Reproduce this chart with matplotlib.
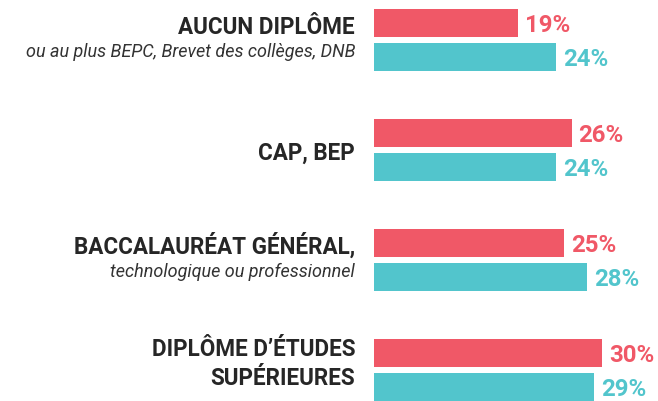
import matplotlib.pyplot as plt
from matplotlib.transforms import blended_transform_factory

# data
groups = ["AUCUN DIPLÔME", "CAP, BEP", "BACCALAURÉAT GÉNÉRAL,", "DIPLÔME D’ÉTUDES"]
subtitles = ["ou au plus BEPC, Brevet des collèges, DNB", "",
             "technologique ou professionnel", ""]
second_bold = ["", "", "", "SUPÉRIEURES"]
red_vals = [19, 26, 25, 30]
teal_vals = [24, 24, 28, 29]

RED = "#F05867"
TEAL = "#52C5CC"
DARK = "#262626"
FONT = ["Roboto", "DejaVu Sans"]

DPI = 72  # 1 pt == 1 px
W, H = 658, 401
fig = plt.figure(figsize=(W / DPI, H / DPI), dpi=DPI)

# axes holding the bars: starts at x=374px, full height
x0 = 374
ax = fig.add_axes([x0 / W, 0, (W - x0) / W, 1])
px_per_pct = 7.6
ax.set_xlim(0, (W - x0) / px_per_pct)
# one group = 110 px, first group centred at 40 px from top
ax.set_ylim(-0.364 + H / 110, -0.364)
ax.axis("off")

bar_h = 28 / 110
off = 17 / 110
idx = list(range(len(groups)))
ax.barh([i - off for i in idx], red_vals, height=bar_h, color=RED)
ax.barh([i + off for i in idx], teal_vals, height=bar_h, color=TEAL)

for i in idx:
    for v, dy, c in ((red_vals[i], -off, RED), (teal_vals[i], off, TEAL)):
        ax.annotate(f"{v}%", (v, i + dy), xytext=(7, -9), textcoords="offset points",
                    ha="left", va="baseline", fontsize=24, fontweight="bold",
                    color=c, family=FONT)

# left labels, right aligned at x=355px (offsets are baselines in px below group centre)
tr = blended_transform_factory(fig.transFigure, ax.transData)
for i in idx:
    if subtitles[i]:
        lines = [(groups[i], "bold", -6), (subtitles[i], "italic", 17)]
    elif second_bold[i]:
        lines = [(groups[i], "bold", -14), (second_bold[i], "bold", 15)]
    else:
        lines = [(groups[i], "bold", 10)]
    for txt, kind, dy in lines:
        if kind == "bold":
            kw = dict(fontsize=22.5, fontweight="bold", color=DARK)
        else:
            kw = dict(fontsize=18, style="italic", color="#333333")
        ax.annotate(txt, (355 / W, i), xycoords=tr, xytext=(0, -dy),
                    textcoords="offset points", ha="right", va="baseline",
                    family=FONT, annotation_clip=False, **kw)

fig.savefig("out.png", dpi=DPI)
